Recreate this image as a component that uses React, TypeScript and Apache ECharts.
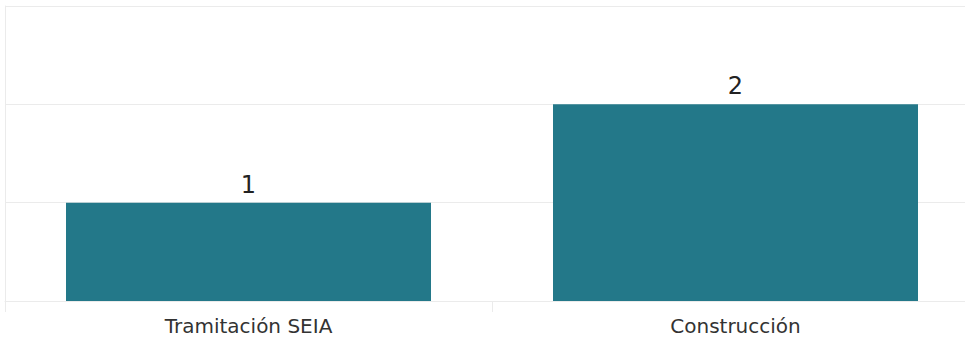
import React, { useEffect, useRef } from "react";
import * as echarts from "echarts";

const categories = ["Tramitación SEIA", "Construcción"];
const values = [1, 2];
const yTicks = [0, 1, 2, 3];

export default function App() {
  const ref = useRef<HTMLDivElement>(null);
  useEffect(() => {
    if (!ref.current) return;
    const chart = echarts.init(ref.current, null, { renderer: "svg" });
    chart.setOption({
      animation: false,
      grid: { left: 5, top: 6, bottom: 40, right: -14, outerBoundsMode: "none", containLabel: false },
      xAxis: {
        type: "category",
        data: categories,
        axisLine: { show: true, lineStyle: { color: "#ebebeb", width: 1 } },
        axisTick: { show: true, alignWithLabel: false, length: 11, lineStyle: { color: "#ebebeb" } },
        axisLabel: {
          color: "#333333",
          fontFamily: "DejaVu Sans",
          fontSize: 20,
          margin: 15,
        },
      },
      yAxis: {
        type: "value",
        min: yTicks[0],
        max: yTicks[yTicks.length - 1],
        interval: 1,
        axisLabel: { show: false },
        axisLine: { show: true, lineStyle: { color: "#ebebeb" } },
        axisTick: { show: false },
        splitLine: { show: true, lineStyle: { color: "#ebebeb", width: 1 } },
      },
      series: [
        {
          type: "bar",
          data: values,
          barWidth: 365,
          itemStyle: { color: "#237889" },
          label: {
            show: true,
            position: "top",
            distance: 6,
            color: "#222222",
            fontFamily: "DejaVu Sans",
            fontSize: 24,
          },
        },
      ],
    });
    return () => chart.dispose();
  }, []);
  return (
    <div
      ref={ref}
      style={{ position: "fixed", left: 0, top: 0, width: 965, height: 341, background: "#ffffff" }}
    />
  );
}
